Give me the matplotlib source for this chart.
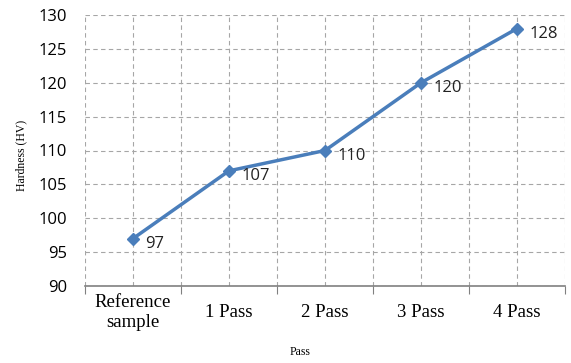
import matplotlib
matplotlib.use('Agg')
import matplotlib.pyplot as plt
from matplotlib.ticker import MultipleLocator, FixedLocator

# データ
categories = ['Reference\nsample', '1 Pass', '2 Pass', '3 Pass', '4 Pass']
hardness = [97, 107, 110, 120, 128]

line_color = '#4a7ebb'
grid_color = '#a6a6a6'

fig = plt.figure(figsize=(5.71, 3.63), dpi=100)
ax = fig.add_axes([85 / 571, 1 - 286 / 363, 480 / 571, 271 / 363])

x = list(range(len(categories)))
ax.plot(x, hardness, color=line_color, linewidth=2.5, marker='D',
        markersize=6, zorder=3)

for xi, yi in zip(x, hardness):
    ax.annotate(f'{yi}', (xi, yi), xytext=(9, -4), textcoords='offset points',
                ha='left', va='center', fontsize=12, family='Open Sans',
                color='#222222')

ax.set_xlim(-0.5, len(categories) - 0.5)
ax.set_ylim(90, 130)
ax.yaxis.set_major_locator(MultipleLocator(5))

# 目盛り：カテゴリ境界に主目盛り、中心にラベル（縦方向は中央揃え）
ax.xaxis.set_major_locator(FixedLocator([i - 0.5 for i in range(len(categories) + 1)]))
ax.set_xticklabels([])
ax.set_xticks(x, minor=True)
ax.set_xticklabels(categories, minor=True, family='Liberation Serif', fontsize=13.5,
                   linespacing=1.2, va='center')
ax.tick_params(axis='x', which='major', length=6, color='#808080', direction='out')
ax.tick_params(axis='x', which='minor', length=0, pad=19)
ax.tick_params(axis='y', length=0, pad=13, labelsize=12)
for lbl in ax.get_yticklabels():
    lbl.set_family('Open Sans')

# グリッド
ax.grid(True, which='both', axis='x', linestyle=(0, (4, 3)), color=grid_color, linewidth=0.8)
ax.grid(True, which='major', axis='y', linestyle=(0, (4, 3)), color=grid_color, linewidth=0.8)

for side in ['left', 'top', 'right']:
    ax.spines[side].set_visible(False)
ax.spines['bottom'].set_color('#808080')
ax.spines['bottom'].set_linewidth(1.2)

ax.set_ylabel('Hardness (HV)', family='Liberation Serif', fontsize=8.5)
ax.yaxis.set_label_coords(-0.12, 0.48)
fig.text(300 / 571, 1 - 352 / 363, 'Pass', family='Liberation Serif', fontsize=8.5,
         ha='center', va='center')

plt.savefig('out.png', dpi=100)
plt.close(fig)
